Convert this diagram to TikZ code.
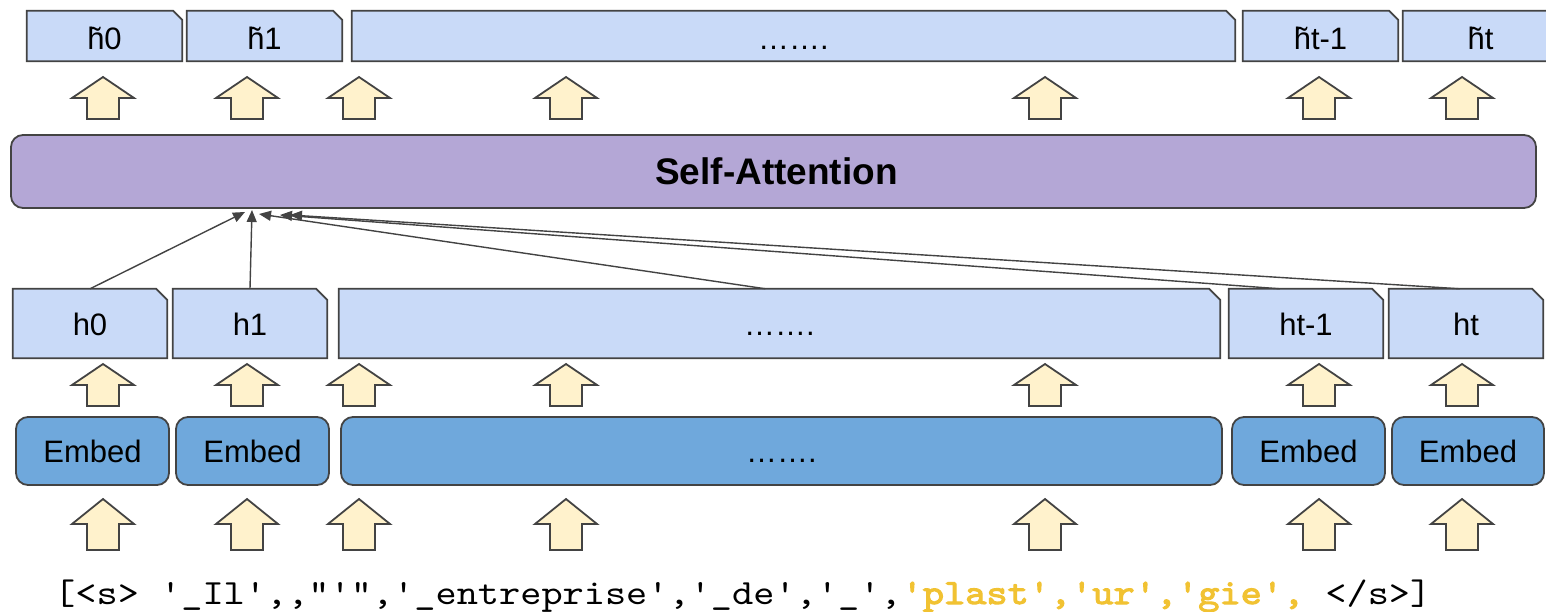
\documentclass[tikz,border=0pt]{standalone}
\usepackage{fontspec}
\setmainfont{Liberation Sans}
% thin serif typewriter face for the token line, widened to a 0.6em pitch
\setmonofont{lmmono10-regular.otf}[FakeStretch=1.14,
  BoldFont=lmmono10-regular.otf, BoldFeatures={FakeBold=3}]
\usetikzlibrary{arrows.meta,backgrounds}

\definecolor{linegrey}{HTML}{434343}
\definecolor{vecblue}{HTML}{C9DAF8}
\definecolor{attnpurple}{HTML}{B4A7D6}
\definecolor{embblue}{HTML}{6FA8DC}
\definecolor{flowfill}{HTML}{FFF2CC}
\definecolor{tokhl}{HTML}{F1C232}

% outline of a vector box with its top-right corner cut off
\newcommand\notchbox[2]{%
  \filldraw[tagbox] (#1.south west) -- (#1.north west)
    -- ([xshift=-#2pt]#1.north east) -- ([yshift=-#2pt]#1.north east)
    -- (#1.south east) -- cycle;}

\tikzset{
  outline/.style={draw=linegrey, line width=1.8pt},
  tagbox/.style={outline, fill=vecblue, line join=miter},
  vec/.style={inner sep=0pt, text depth=0pt, font=\fontsize{31}{36}\selectfont},
  ctx/.style={vec, minimum height=50, text height=27},
  hid/.style={vec, minimum height=69, text height=23},
  emb/.style={vec, minimum height=68, text height=22, outline, fill=embblue,
    rounded corners=12},
  attn/.style={draw=linegrey, line width=1.4pt,
    -{Triangle[length=12pt,width=10pt]}},
  pics/blockup/.style args={#1/#2}{code={
    \filldraw[draw=linegrey, line width=1.8pt, fill=flowfill, line join=miter]
      (0,0) -- (31,#1) -- (16,#1) -- (16,#2) -- (-16,#2) -- (-16,#1)
      -- (-31,#1) -- cycle;}}
}

\begin{document}
\begin{tikzpicture}[x=1pt,y=-1pt]
\useasboundingbox (0,0) rectangle (1546,612);

% contextual outputs
\node[ctx, minimum width=155] (t0) at (104.5,36) {h̃0};
\node[ctx, minimum width=155] (t1) at (264.5,36) {h̃1};
\node[ctx, minimum width=883] (t2) at (793.5,36) {…….};
\node[ctx, minimum width=155] (t3) at (1320.5,36) {h̃t-1};
\node[ctx, minimum width=155] (t4) at (1480.5,36) {h̃t};

% self-attention layer
\node[outline, fill=attnpurple, rounded corners=12, inner sep=0pt,
      minimum width=1525, minimum height=73, text height=27, text depth=0pt,
      font=\fontsize{37}{42}\selectfont\bfseries] (sa) at (773.5,171.5)
      {\hspace*{6pt}Self-Attention};

% hidden states
\node[hid, minimum width=154] (h0) at (90,323.5) {h0};
\node[hid, minimum width=154] (h1) at (250,323.5) {h1};
\node[hid, minimum width=881] (h2) at (779.5,323.5) {…….};
\node[hid, minimum width=154] (h3) at (1306,323.5) {ht-1};
\node[hid, minimum width=154] (h4) at (1466,323.5) {ht};

% embeddings
\node[emb, minimum width=153] (e0) at (92.5,451) {Embed};
\node[emb, minimum width=153] (e1) at (252.5,451) {Embed};
\node[emb, minimum width=881] (e2) at (781.5,451) {…….};
\node[emb, minimum width=153] (e3) at (1308.5,451) {Embed};
\node[emb, minimum width=152] (e4) at (1468,451) {Embed};

% input tokens
\node[anchor=base west, inner sep=0pt,
      font=\ttfamily\fontsize{35.4}{40}\selectfont] (tokens) at (54,604)
  {[<s> '\_Il',,"'",'\_entreprise','\_de','\_',{\color{tokhl}\bfseries 'plast','ur','gie',} </s>]};

% box outlines behind the labels
\begin{scope}[on background layer]
  \foreach \n in {t0,t1,t2,t3,t4} {\notchbox{\n}{9}}
  \foreach \n in {h0,h1,h2,h3,h4} {\notchbox{\n}{11}}
\end{scope}

% flow arrows between the layers
\foreach \cx in {103,247,359,566,1045,1319,1462} {
  \pic at (\cx,77) {blockup=21/42};
  \pic at (\cx,364) {blockup=21/42};
  \pic at (\cx,499) {blockup=25/51};
}

% attention connections
\coordinate (f0) at (245,212);
\coordinate (f1) at (252,210);
\coordinate (f2) at (259,214);
\coordinate (f3) at (280,215);
\coordinate (f4) at (290,215);
\draw[attn] (h0.north) -- (f0);
\draw[attn] (h1.north) -- (f1);
\draw[attn] ([xshift=-14pt]h2.north) -- (f2);
\draw[attn] ([xshift=-26pt]h3.north) -- (f3);
\draw[attn] ([xshift=-6pt]h4.north) -- (f4);
\end{tikzpicture}
\end{document}
